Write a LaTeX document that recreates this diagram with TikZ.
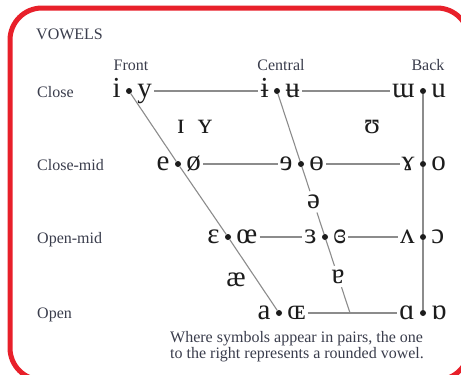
\documentclass[tikz,border=0pt]{standalone}
\usepackage{fontspec}
\setmainfont{Liberation Serif}
\usetikzlibrary{positioning,calc}
\definecolor{framered}{HTML}{E8202A}
\definecolor{labelgray}{HTML}{3A3D4C}
\definecolor{linegray}{HTML}{8C8C8C}
\definecolor{ipaink}{HTML}{1C1C1C}
\tikzset{
    every node/.style={font=\fontsize{16}{16}\selectfont,text=labelgray},
    heading/.style={anchor=base west,inner sep=0pt},
    colhead/.style={anchor=base,inner sep=0pt},
    rowhead/.style={anchor=base west,inner sep=0pt},
    ipa/.style={font=\fontsize{29}{30}\selectfont,text=ipaink,inner sep=2pt,text height=13pt,text depth=0pt},
    vdot/.style={circle,fill=ipaink,minimum size=6pt,inner sep=0pt},
    chartline/.style={draw=linegray,line width=1.1pt}
}

\begin{document}
\begin{tikzpicture}[x=1pt,y=-1pt,node distance=3pt]
\useasboundingbox (0,0) rectangle (461,375);
\clip (0,0) rectangle (461,375);
\fill[white] (0,0) rectangle (461,375);
\draw[framered,line width=5pt,rounded corners=32pt] (10,8) rectangle (469,380);

% headings
\node[heading] (title) at (36,39) {VOWELS};
\node[colhead] (front) at (131,70) {Front};
\node[colhead] (central) at (281,70) {Central};
\node[colhead] (back) at (428,70) {Back};
\node[rowhead] (close) at (37,97) {Close};
\node[rowhead] (closemid) at (37,170) {Close-mid};
\node[rowhead] (openmid) at (37,243) {Open-mid};
\node[rowhead] (open) at (37,318) {Open};

% dots
\node[vdot] (fc) at (129,91) {};
\node[vdot] (cc) at (277,91) {};
\node[vdot] (bc) at (423,91) {};
\node[vdot] (fcm) at (178,164) {};
\node[vdot] (ccm) at (301,164) {};
\node[vdot] (bcm) at (423,164) {};
\node[vdot] (fom) at (228,237) {};
\node[vdot] (com) at (325,237) {};
\node[vdot] (bom) at (423,237) {};
\node[vdot] (fo) at (279,313) {};
\node[vdot] (bo) at (423,313) {};
\coordinate (co) at (350,313);

% vowel pairs
\node[ipa,left=of fc] (i) {i};
\node[ipa,right=of fc] (y) {y};
\node[ipa,left=of cc] (bari) {ɨ};
\node[ipa,right=of cc] (baru) {ʉ};
\node[ipa,left=of bc] (turnm) {ɯ};
\node[ipa,right=of bc] (u) {u};
\node[ipa,left=of fcm] (e) {e};
\node[ipa,right=of fcm] (oslash) {ø};
\node[ipa,left=of ccm] (reve) {ɘ};
\node[ipa,right=of ccm] (baro) {ɵ};
\node[ipa,left=of bcm] (ramshorn) {ɤ};
\node[ipa,right=of bcm] (o) {o};
\node[ipa,left=of fom] (eps) {ɛ};
\node[ipa,right=of fom] (oe) {œ};
\node[ipa,left=of com] (reveps) {ɜ};
\node[ipa,right=of com] (closedeps) {ɞ};
\node[ipa,left=of bom] (wedge) {ʌ};
\node[ipa,right=of bom] (openo) {ɔ};
\node[ipa,left=of fo] (a) {a};
\node[ipa,right=of fo] (smalloe) {ɶ};
\node[ipa,left=of bo] (alpha) {ɑ};
\node[ipa,right=of bo] (turnalpha) {ɒ};

% single vowels
\node[ipa] (smalli) at (181,127) {ɪ};
\node[ipa] (smally) at (205,127) {ʏ};
\node[ipa] (upsilon) at (372,127) {ʊ};
\node[ipa] (ash) at (236,280) {æ};
\path (ccm) -- (com) node[ipa,pos=0.52,inner sep=4pt] (schwa) {ə};
\path (com) -- (co) node[ipa,pos=0.5,inner sep=4pt] (turna) {ɐ};

% rows
\draw[chartline] (y) -- (bari);
\draw[chartline] (baru) -- (turnm);
\draw[chartline] (oslash) -- (reve);
\draw[chartline] (baro) -- (ramshorn);
\draw[chartline] (oe) -- (reveps);
\draw[chartline] (closedeps) -- (wedge);
\draw[chartline] (smalloe) -- (alpha);

% columns
\draw[chartline] (fc) -- (fcm) -- (fom) -- (fo);
\draw[chartline] (cc) -- (ccm) -- (schwa);
\draw[chartline] (schwa) -- (com) -- (turna);
\draw[chartline] (turna) -- (co);
\draw[chartline] (bc) -- (bcm) -- (bom) -- (bo);

% note
\node[heading] (notea) at (170,342) {Where symbols appear in pairs, the one};
\node[heading] (noteb) at (170,358) {to the right represents a rounded vowel.};
\end{tikzpicture}
\end{document}
